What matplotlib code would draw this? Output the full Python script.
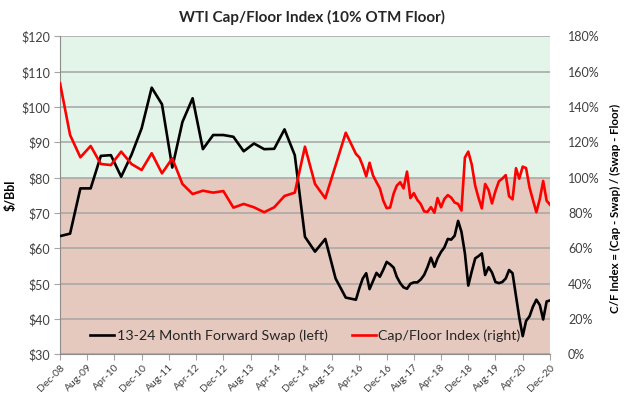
import numpy as np
import pandas as pd
import matplotlib
matplotlib.use('Agg')
import matplotlib.pyplot as plt
from matplotlib.lines import Line2D
from matplotlib.ticker import FuncFormatter
import matplotlib.dates as mdates

plt.rcParams['font.family'] = ['Lato', 'DejaVu Sans']

# dates: quarterly Dec-08 .. Mar-16, then monthly Apr-16 .. Dec-20
dates_q = pd.date_range('2008-12-01', '2016-03-01', freq='3MS')
dates_m = pd.date_range('2016-04-01', '2020-12-01', freq='MS')
dates = dates_q.append(dates_m)

# 13-24 month forward swap ($/Bbl, left axis)
swap_q = [63.5, 64.2, 77.0, 77.0, 86.2, 86.4, 80.3, 86.5, 94.0, 105.5,
          100.8, 82.9, 95.8, 102.5, 88.1, 92.1, 92.1, 91.6, 87.5, 89.7,
          88.1, 88.2, 93.7, 86.4, 63.3, 59.1, 62.7, 51.5, 46.1, 45.5]
swap_m = [48.8, 51.5, 53.0, 48.5, 50.8, 53.1, 52.0, 54.0, 56.2, 55.5,
          54.6, 52.0, 50.2, 49.0, 48.6, 50.0, 50.4, 50.4, 51.2, 52.5,
          54.7, 57.4, 54.8, 57.2, 59.0, 60.3, 62.7, 62.5, 63.6, 67.8,
          64.7, 58.6, 49.5, 53.5, 57.2, 57.8, 58.6, 52.5, 54.7, 53.2,
          50.5, 50.2, 50.5, 51.5, 53.9, 53.0, 46.5, 40.5, 35.2, 39.5,
          40.8, 43.5, 45.5, 44.0, 39.9, 45.0, 45.3]

# Cap/Floor index (%, right axis)
cf_q = [153.5, 124.2, 111.6, 118.0, 107.8, 107.2, 114.8, 107.8, 104.4, 113.9,
        102.5, 111.0, 96.5, 90.8, 92.7, 91.6, 92.5, 83.1, 85.2, 83.3,
        80.5, 83.3, 89.7, 91.6, 117.6, 96.5, 88.4, 107.0, 125.5, 113.5]
cf_m = [111.5, 106.8, 100.8, 108.5, 101.3, 97.5, 94.0, 87.0, 82.8, 83.2,
        91.0, 95.5, 97.5, 94.0, 103.5, 88.5, 91.3, 87.5, 85.2, 81.0,
        80.7, 83.4, 80.2, 88.5, 83.3, 88.0, 90.2, 88.8, 86.0, 85.2,
        81.5, 111.5, 114.8, 107.5, 95.5, 89.0, 82.7, 96.5, 93.0, 85.5,
        92.5, 98.0, 99.5, 101.5, 89.5, 87.8, 105.4, 99.5, 106.3, 105.5,
        94.5, 87.5, 80.5, 88.0, 98.2, 87.0, 84.8]

swap = np.array(swap_q + swap_m)
cf = np.array(cf_q + cf_m) / 100.0

tick_dates = pd.date_range('2008-12-01', '2020-12-01', freq='8MS')

green = '#E3F4E9'
pink = '#E6C9BE'
grid_c = '#A5A5A5'
txt_c = '#404040'

fig = plt.figure(figsize=(6.24, 3.98), dpi=100)
ax = fig.add_axes([0.0962, 0.1093, 0.7852, 0.7992])

# zonas de fundo: acima/abaixo do piso
ax.axhspan(30, 80, color=pink, zorder=0, lw=0)
ax.axhspan(80, 120, color=green, zorder=0, lw=0)
ax.set_ylim(30, 120)
ax.set_yticks(np.arange(30, 121, 10))
ax.yaxis.grid(True, color=grid_c, lw=1.1)
ax.set_axisbelow(True)
ax.yaxis.set_major_formatter(FuncFormatter(lambda v, p: f'${v:.0f}'))

ax.plot(dates, swap, color='black', lw=1.9, zorder=3)

ax.set_xlim(dates[0], pd.Timestamp('2020-12-01'))
ax.set_xticks(tick_dates)
ax.xaxis.set_major_formatter(mdates.DateFormatter('%b-%y'))
plt.setp(ax.get_xticklabels(), rotation=45, ha='right', rotation_mode='anchor',
         fontsize=7.5, color=txt_c)
ax.tick_params(axis='x', length=4, color=grid_c, pad=2)
ax.tick_params(axis='y', length=4, color=grid_c, labelsize=9, labelcolor=txt_c, pad=3)

for s in ['top', 'right']:
    ax.spines[s].set_visible(False)
ax.spines['left'].set_color('#8C8C8C')
ax.spines['bottom'].set_color('#8C8C8C')

ax.set_ylabel('$/Bbl', fontsize=9, fontweight='bold')
ax.yaxis.set_label_coords(-0.088, 0.5)

ax2 = ax.twinx()
ax2.plot(dates, cf, color='red', lw=1.9, zorder=3)
ax2.set_ylim(0, 1.8)
ax2.set_yticks(np.arange(0, 1.81, 0.2))
ax2.yaxis.set_major_formatter(FuncFormatter(lambda v, p: f'{v*100:.0f}%'))
ax2.tick_params(axis='y', length=0, labelsize=9, labelcolor=txt_c, pad=13)
for s in ax2.spines.values():
    s.set_visible(False)
ax2.set_ylabel('C/F Index = (Cap - Swap) / (Swap - Floor)', fontsize=8.3,
               fontweight='bold', rotation=90)
ax2.yaxis.set_label_coords(1.122, 0.46)

handles = [Line2D([0], [0], color='black', lw=1.9),
           Line2D([0], [0], color='red', lw=1.9)]
ax2.legend(handles, ['13-24 Month Forward Swap (left)', 'Cap/Floor Index (right)'],
           loc='center left', bbox_to_anchor=(0.035, 0.06), ncol=2, frameon=False,
           fontsize=10.3, handlelength=1.7, handletextpad=0.15, columnspacing=1.7,
           labelcolor='#262626')

fig.suptitle('WTI Cap/Floor Index (10% OTM Floor)', x=0.5, y=0.975, fontsize=11,
             fontweight='bold', color='#262626')

fig.savefig('out.png', dpi=100)
